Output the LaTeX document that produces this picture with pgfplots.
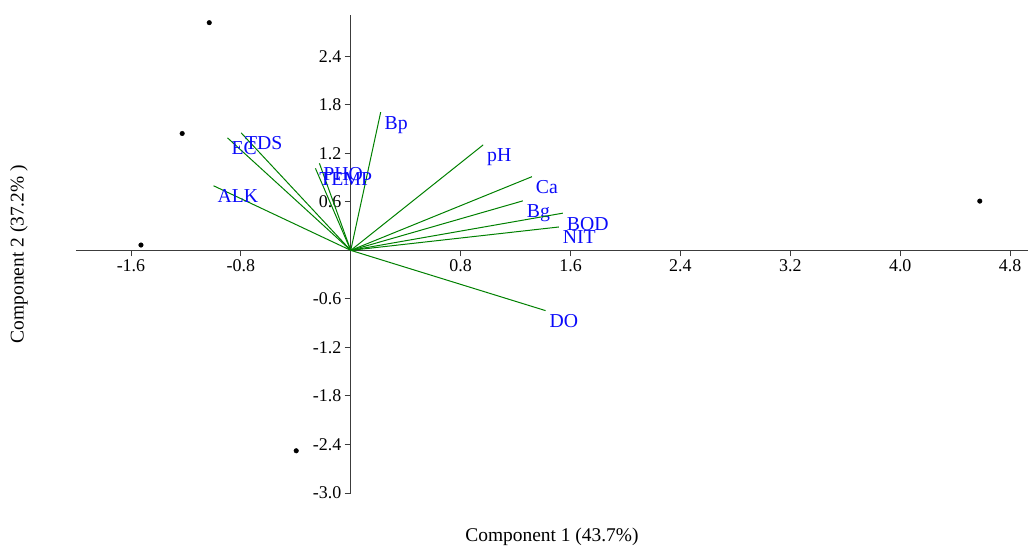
\documentclass[border=0pt]{standalone}
\usepackage{pgfplots}
\pgfplotsset{compat=1.18}
\usepackage{fontspec}
\setmainfont{Liberation Serif}
\definecolor{vecgreen}{RGB}{0,128,0}
\definecolor{labblue}{RGB}{10,10,250}
\definecolor{axgray}{RGB}{60,60,60}
\tikzset{
  vec/.style={vecgreen, line width=1bp},
  lab/.style={pos=1, anchor=north west, inner sep=3.5bp, text=labblue, font=\fontsize{19.8}{22}\selectfont},
}
\begin{document}
\begin{tikzpicture}
\begin{axis}[
  scale only axis, width=952bp, height=478bp,
  xmin=-2.0, xmax=4.93, ymin=-3.0, ymax=2.91,
  axis lines=middle, axis line style={-, axgray, line width=0.9pt},
  tick align=outside, major tick length=6bp, tick style={axgray, line width=0.9pt},
  xtick={-1.6,-0.8,0.8,1.6,2.4,3.2,4.0,4.8},
  xticklabels={-1.6,-0.8,0.8,1.6,2.4,3.2,4.0,4.8},
  ytick={-3.0,-2.4,-1.8,-1.2,-0.6,0.6,1.2,1.8,2.4},
  yticklabels={-3.0,-2.4,-1.8,-1.2,-0.6,0.6,1.2,1.8,2.4},
  tick label style={font=\fontsize{18}{20}\selectfont, text=black},
  xlabel={Component 1 (43.7\%)}, ylabel={Component 2 (37.2\% )},
  every axis x label/.style={at={(rel axis cs:0.5,0)}, anchor=center, yshift=-44bp, font=\fontsize{19.5}{22}\selectfont},
  every axis y label/.style={at={(rel axis cs:0,0.5)}, anchor=center, xshift=-57bp, rotate=90, font=\fontsize{19.5}{22}\selectfont},
  clip=false,
]
\addplot[vec, no marks] coordinates {(0,0) (0.218,1.709)} node[lab] {Bp};
\addplot[vec, no marks] coordinates {(0,0) (0.964,1.304)} node[lab] {pH};
\addplot[vec, no marks] coordinates {(0,0) (1.319,0.911)} node[lab] {Ca};
\addplot[vec, no marks] coordinates {(0,0) (1.253,0.612)} node[lab] {Bg};
\addplot[vec, no marks] coordinates {(0,0) (1.544,0.460)} node[lab] {BOD};
\addplot[vec, no marks] coordinates {(0,0) (1.515,0.289)} node[lab] {NIT};
\addplot[vec, no marks] coordinates {(0,0) (1.418,-0.745)} node[lab] {DO};
\addplot[vec, no marks] coordinates {(0,0) (-0.999,0.799)} node[lab] {ALK};
\addplot[vec, no marks] coordinates {(0,0) (-0.897,1.391)} node[lab] {EC};
\addplot[vec, no marks] coordinates {(0,0) (-0.798,1.453)} node[lab] {TDS};
\addplot[vec, no marks] coordinates {(0,0) (-0.228,1.076)} node[lab] {PHO};
\addplot[vec, no marks] coordinates {(0,0) (-0.257,1.014)} node[lab] {TEMP};
\addplot[only marks, mark=*, mark size=2.3bp, black] coordinates {
  (-1.030,2.815) (-1.227,1.445) (-1.527,0.066) (-0.397,-2.478) (4.579,0.609)
};
\end{axis}
\pgfresetboundingbox
\path (-76bp,-57bp) rectangle (953bp,493bp);
\end{tikzpicture}
\end{document}
